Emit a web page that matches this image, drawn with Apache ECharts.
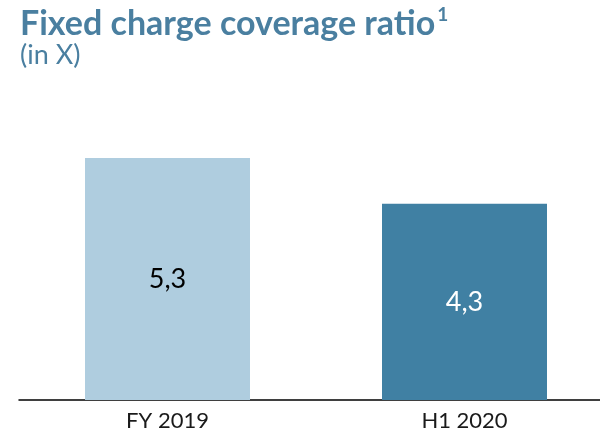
<!DOCTYPE html>
<html>
<head>
<meta charset="utf-8">
<script src="https://cdn.jsdelivr.net/npm/echarts@6/dist/echarts.min.js"></script>
<style>
  html, body { margin: 0; padding: 0; background: #fff; }
  #chart { width: 600px; height: 435px; }
</style>
</head>
<body>
<div id="chart"></div>
<script>
// Periods and fixed charge coverage ratio values (times)
const categories = ['FY 2019', 'H1 2020'];
const ratios = [5.3, 4.3];
const barColors = ['#afcddf', '#4080a3'];
const labelColors = ['#000000', '#ffffff'];

const chart = echarts.init(document.getElementById('chart'));
const fmt = v => String(v).replace('.', ',');

chart.setOption({
  animation: false,
  title: {
    left: 15,
    top: 0,
    text: '{t|Fixed charge coverage ratio}{s|1}',
    subtext: '(in X)',
    itemGap: -2,
    textStyle: {
      rich: {
        t: { fontFamily: 'Lato', fontWeight: 'bold', fontSize: 34, color: '#4a7fa0', lineHeight: 38 },
        s: { fontFamily: 'Lato', fontWeight: 'bold', fontSize: 19, color: '#4a7fa0', verticalAlign: 'top', lineHeight: 38, padding: [0, 0, 14, 2] }
      }
    },
    subtextStyle: { fontFamily: 'Lato', fontSize: 27, color: '#4a7fa0', lineHeight: 32 }
  },
  // the plot runs past the right edge so the baseline reaches it
  grid: { left: 19, width: 594, top: 126, bottom: 35, outerBoundsMode: 'none', containLabel: false },
  xAxis: {
    type: 'category',
    data: categories,
    axisLine: { lineStyle: { color: '#000', width: 1.5 } },
    axisTick: { show: false },
    axisLabel: { fontFamily: 'Lato', fontSize: 22, color: '#1a1a1a', margin: 10 }
  },
  yAxis: {
    type: 'value', min: 0, max: 6, show: false, splitLine: { show: false }
  },
  series: [{
    type: 'bar',
    barWidth: 165,
    data: ratios.map((v, i) => ({
      value: v,
      itemStyle: { color: barColors[i] },
      label: { color: labelColors[i] }
    })),
    label: {
      show: true,
      position: 'inside',
      fontFamily: 'Lato',
      fontSize: 27,
      formatter: p => fmt(p.value)
    }
  }]
});
</script>
</body>
</html>
